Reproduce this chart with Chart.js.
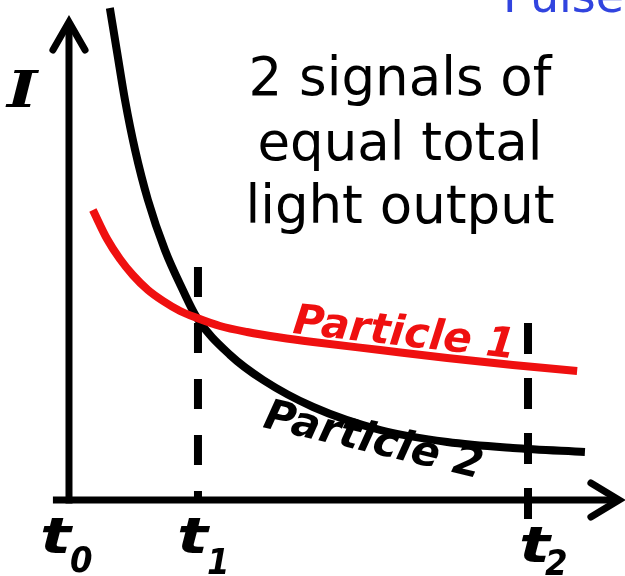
<!DOCTYPE html>
<html>
<head>
<meta charset="utf-8">
<script src="https://cdn.jsdelivr.net/npm/chart.js@4/dist/chart.umd.min.js"></script>
<style>
  html, body { margin: 0; padding: 0; background: #ffffff; }
  #wrap { width: 625px; height: 576px; }
</style>
</head>
<body>
<div id="wrap"><canvas id="c" width="625" height="576"></canvas></div>
<script>
// Time axis (arbitrary units, t0 = 0) and intensity I (arbitrary units)
const tickTimes = [0, 2.81, 10];          // t0, t1, t2
const tickNames = ['0', '1', '2'];        // subscripts of the t labels

// Particle 1: slow, flatter decay
const p1Time = [0.52, 0.83, 1.11, 1.39, 1.72, 2.05, 2.42, 2.79, 3.29, 3.88, 4.60, 5.32, 6.78, 8.24, 9.67, 11.07];
const p1Int  = [5.80, 5.22, 4.82, 4.50, 4.20, 3.98, 3.78, 3.64, 3.48, 3.36, 3.25, 3.16, 3.00, 2.84, 2.70, 2.58];

// Particle 2: fast, steep decay
const p2Time = [0.89, 1.04, 1.22, 1.44, 1.72, 2.09, 2.48, 2.79, 3.51, 4.23, 5.32, 6.78, 8.24, 9.67, 11.24];
const p2Int  = [9.84, 9.00, 8.00, 7.00, 6.00, 5.00, 4.20, 3.64, 2.90, 2.40, 1.86, 1.40, 1.16, 1.04, 0.96];

// Extent of the dashed markers at t1 and t2 (intensity from / to)
const t1Span = [4.66, 0.0];
const t2Span = [3.54, -0.44];

const pts = (xs, ys) => xs.map((x, i) => ({ x: x, y: ys[i] }));

const curve = (data, color) => ({
  data: data, showLine: true, borderColor: color, borderWidth: 8,
  pointRadius: 0, cubicInterpolationMode: 'monotone',
  borderCapStyle: 'butt', borderJoinStyle: 'round', fill: false
});
const stroke = (data, width, extra) => Object.assign({
  data: data, showLine: true, borderColor: '#000000', borderWidth: width,
  pointRadius: 0, tension: 0, fill: false, borderCapStyle: 'butt', borderJoinStyle: 'miter'
}, extra || {});

// Axis geometry in data units
const yTop = 9.56, xEnd = 11.98;
const axesData = {
  yAxis: [{ x: 0, y: -0.07 }, { x: 0, y: yTop }],
  yHead: [{ x: -0.35, y: 9.0 }, { x: 0, y: yTop }, { x: 0.35, y: 9.0 }],
  xAxis: [{ x: -0.35, y: 0 }, { x: xEnd, y: 0 }],
  xHead: [{ x: 11.37, y: 0.34 }, { x: xEnd, y: 0 }, { x: 11.37, y: -0.34 }]
};

// Draws text stretched horizontally by sx around its left baseline point
function wideText(ctx, text, x, y, sx) {
  ctx.save();
  ctx.translate(x, y);
  ctx.scale(sx, 1);
  ctx.fillText(text, 0, 0);
  ctx.restore();
}

// Text overlay: labels, annotation and axis names
const labelsPlugin = {
  id: 'labels',
  afterDatasetsDraw(chart) {
    const ctx = chart.ctx;
    ctx.save();
    ctx.textBaseline = 'alphabetic';

    // Annotation
    ctx.fillStyle = '#000000';
    ctx.textAlign = 'center';
    ctx.font = '53px "DejaVu Sans"';
    ctx.fillText('2 signals of', 400, 95);
    ctx.fillText('equal total', 400, 160);
    ctx.fillText('light output', 400, 223);

    // Title fragment
    ctx.textAlign = 'left';
    ctx.fillStyle = '#3144df';
    ctx.font = '46px "DejaVu Sans"';
    ctx.fillText('Pulse', 503, 12);

    // Intensity axis name
    ctx.fillStyle = '#000000';
    ctx.font = 'italic bold 50px "DejaVu Serif"';
    wideText(ctx, 'I', 7, 107, 1.3);

    // Time labels t0, t1, t2
    const tPos = [[40, 553, 70, 572], [177, 553, 207, 574], [519, 562, 545, 575]];
    tickTimes.forEach((t, i) => {
      const p = tPos[i];
      ctx.font = 'italic bold 50px "DejaVu Sans"';
      wideText(ctx, 't', p[0], p[1], 1.3);
      ctx.font = 'italic bold 36px "DejaVu Sans"';
      wideText(ctx, tickNames[i], p[2], p[3], 0.9);
    });

    // Curve names
    ctx.font = 'italic bold 42px "DejaVu Sans"';
    ctx.save();
    ctx.translate(292, 333);
    ctx.rotate(6.5 * Math.PI / 180);
    ctx.fillStyle = '#ef1010';
    ctx.fillText('Particle 1', 0, 0);
    ctx.restore();

    ctx.save();
    ctx.translate(262, 427);
    ctx.rotate(13.3 * Math.PI / 180);
    ctx.fillStyle = '#000000';
    ctx.fillText('Particle 2', 0, 0);
    ctx.restore();

    ctx.restore();
  }
};

new Chart(document.getElementById('c'), {
  type: 'scatter',
  data: {
    datasets: [
      curve(pts(p1Time, p1Int), '#ef1010'),
      curve(pts(p2Time, p2Int), '#000000'),
      stroke([{ x: tickTimes[1], y: t1Span[0] }, { x: tickTimes[1], y: t1Span[1] }], 8, { borderDash: [30, 26] }),
      stroke([{ x: tickTimes[2], y: t2Span[0] }, { x: tickTimes[2], y: t2Span[1] }], 8, { borderDash: [31, 24] }),
      stroke(axesData.yAxis, 7),
      stroke(axesData.yHead, 7, { borderCapStyle: 'round' }),
      stroke(axesData.xAxis, 7),
      stroke(axesData.xHead, 7, { borderCapStyle: 'round' })
    ]
  },
  options: {
    responsive: false,
    animation: false,
    layout: { padding: 0 },
    scales: {
      x: { type: 'linear', min: -1.503, max: 12.113, display: false },
      y: { type: 'linear', min: -1.52, max: 10, display: false }
    },
    plugins: { legend: { display: false }, tooltip: { enabled: false } }
  },
  plugins: [labelsPlugin]
});
</script>
</body>
</html>
